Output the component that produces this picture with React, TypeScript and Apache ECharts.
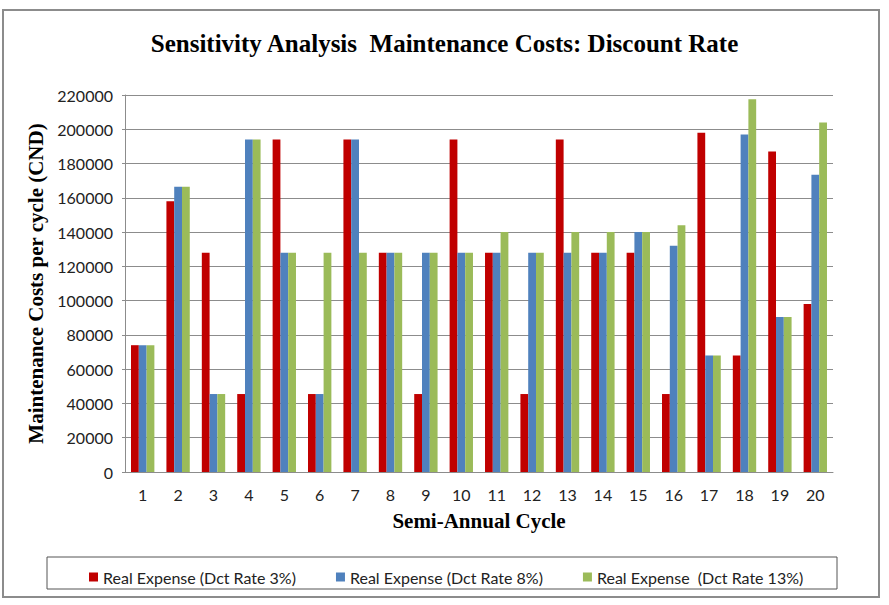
import React, { useEffect, useRef } from "react";
import * as echarts from "echarts";

const categories = ["1","2","3","4","5","6","7","8","9","10","11","12","13","14","15","16","17","18","19","20"];
const rate3 = [74000,158000,128000,45500,194000,45500,194000,128000,45500,194000,128000,45500,194000,128000,128000,45500,198000,68000,187000,98000];
const rate8 = [74000,166500,45500,194000,128000,45500,194000,128000,128000,128000,128000,128000,128000,128000,140000,132000,68000,197000,90500,173500];
const rate13 = [74000,166500,45500,194000,128000,128000,128000,128000,128000,128000,140000,128000,140000,140000,140000,144000,68000,217500,90500,204000];
const seriesNames = ["Real Expense (Dct Rate 3%)", "Real Expense (Dct Rate 8%)", "Real Expense  (Dct Rate 13%)"];
const colors = ["#C00000", "#4F81BD", "#9BBB59"];

export default function App() {
  const ref = useRef<HTMLDivElement>(null);
  useEffect(() => {
    document.body.style.margin = "0";
    const chart = echarts.init(ref.current!, null, { renderer: "svg" });
    const serif = "'Liberation Serif', 'Times New Roman', serif";
    const sans = "Lato, Carlito, 'Open Sans', sans-serif";
    chart.setOption({
      animation: false,
      backgroundColor: "#ffffff",
      title: {
        text: "Sensitivity Analysis  Maintenance Costs: Discount Rate",
        left: "center",
        top: 26,
        textStyle: { fontFamily: serif, fontWeight: "bold", fontSize: 25, color: "#000" },
      },
      graphic: [
        { type: "rect", shape: { x: 3, y: 10, width: 876, height: 587 }, style: { fill: "none", stroke: "#8c8c8c", lineWidth: 2 } },
        { type: "rect", shape: { x: 47, y: 557, width: 790, height: 32 }, style: { fill: "none", stroke: "#555", lineWidth: 1 } },
      ],
      legend: {
        left: 84,
        top: 564,
        itemWidth: 9,
        itemHeight: 9,
        itemGap: 40,
        icon: "rect",
        textStyle: { fontFamily: sans, fontSize: 16, color: "#222" },
        data: seriesNames,
      },
      grid: { left: 125, right: 56, top: 95, bottom: 133, containLabel: false },
      xAxis: {
        type: "category",
        data: categories,
        name: "Semi-Annual Cycle",
        nameLocation: "middle",
        nameGap: 38,
        nameTextStyle: { fontFamily: serif, fontWeight: "bold", fontSize: 21, color: "#000" },
        axisLine: { lineStyle: { color: "#8c8c8c", width: 1 } },
        axisTick: { show: false },
        axisLabel: { fontFamily: sans, fontSize: 16, color: "#222", margin: 14 },
      },
      yAxis: {
        type: "value",
        min: 0,
        max: 220000,
        interval: 20000,
        name: "Maintenance Costs per cycle (CND)",
        nameLocation: "middle",
        nameGap: 73,
        nameTextStyle: { fontFamily: serif, fontWeight: "bold", fontSize: 21, color: "#000" },
        axisLine: { show: true, lineStyle: { color: "#8c8c8c", width: 1 } },
        axisTick: { show: true, length: 3, lineStyle: { color: "#8c8c8c" } },
        axisLabel: { fontFamily: sans, fontSize: 16, color: "#222", margin: 12, formatter: (v: number) => String(v) },
        splitLine: { lineStyle: { color: "#8c8c8c", width: 1 } },
      },
      series: [rate3, rate8, rate13].map((d, i) => ({
        type: "bar",
        name: seriesNames[i],
        data: d,
        itemStyle: { color: colors[i] },
        barGap: "0%",
        barCategoryGap: "34%",
      })),
    });
    return () => chart.dispose();
  }, []);
  return <div ref={ref} style={{ width: 889, height: 605 }} />;
}
